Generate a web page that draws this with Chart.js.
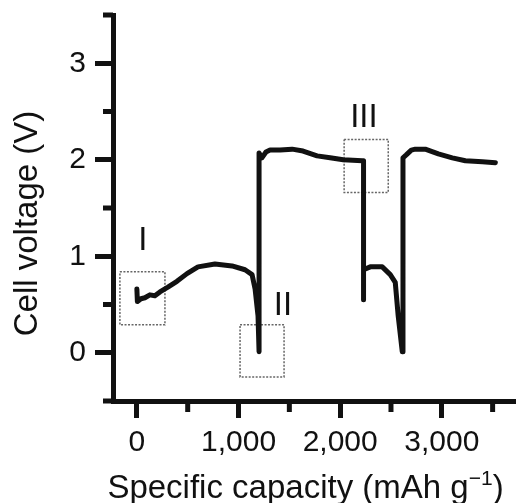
<!DOCTYPE html>
<html>
<head>
<meta charset="utf-8">
<script src="https://cdn.jsdelivr.net/npm/chart.js@4/dist/chart.umd.min.js"></script>
<style>
body{margin:0;background:#fff;}
</style>
</head>
<body>
<canvas id="chart" width="516" height="503"></canvas>
<script>
// discharge / charge curve
const capacity=[0,5,40,79,128,177,227,305,394,493,601,768,936,1064,1133,1163,1192,1202,1202,1230,1270,1310,1409,1527,1635,1773,1901,2030,2217,2230,2230,2230,2296,2414,2493,2542,2571,2611,2618,2650,2700,2739,2837,2966,3103,3232,3399,3527];
const voltage=[0.66,0.53,0.56,0.57,0.60,0.59,0.63,0.68,0.74,0.82,0.89,0.92,0.9,0.86,0.81,0.66,0.38,0.01,2.07,2.02,2.08,2.10,2.10,2.11,2.09,2.04,2.02,2.0,1.99,1.99,0.55,0.86,0.89,0.89,0.81,0.73,0.38,0.01,2.02,2.05,2.10,2.11,2.11,2.06,2.02,1.99,1.98,1.97];

// dotted boxes I, II, III
const regionNames=["I","II","III"];
const boxLeft=[-167,1015,2039];
const boxRight=[276,1448,2473];
const boxTop=[0.84,0.29,2.21];
const boxBottom=[0.29,-0.25,1.66];
const labelX=[59,1437,2234];
const labelY=[1.065,0.39,2.34];

// axis ticks (major ones get labels)
const xTickValues=[0,500,1000,1500,2000,2500,3000,3500];
const yTickValues=[-0.5,0,0.5,1,1.5,2,2.5,3,3.5];
const xTicks=[0,1000,2000,3000];
const yTicks=[0,1,2,3];

const INK='#111';

function isMajor(list,v){return list.some(t=>Math.abs(t-v)<1e-6);}

function boxDataset(i){
    return {
        data:[
            {x:boxLeft[i],y:boxTop[i]},{x:boxRight[i],y:boxTop[i]},
            {x:boxRight[i],y:boxBottom[i]},{x:boxLeft[i],y:boxBottom[i]},
            {x:boxLeft[i],y:boxTop[i]}
        ],
        showLine:true,pointRadius:0,borderColor:'#666',borderWidth:1.5,borderDash:[2,1.5],fill:false
    };
}

const minorTicks={
    id:'minorTicks',
    afterDraw(chart){
        const {ctx,scales:{x,y}}=chart;
        ctx.save();
        ctx.strokeStyle=INK;ctx.lineWidth=5;
        x.ticks.forEach(t=>{
            if(isMajor(xTicks,t.value)) return;
            const px=x.getPixelForValue(t.value);
            ctx.beginPath();ctx.moveTo(px,x.top);ctx.lineTo(px,x.top+11);ctx.stroke();
        });
        y.ticks.forEach(t=>{
            if(isMajor(yTicks,t.value)) return;
            const py=y.getPixelForValue(t.value);
            ctx.beginPath();ctx.moveTo(y.right-10,py);ctx.lineTo(y.right,py);ctx.stroke();
        });
        ctx.restore();
    }
};

const textLayer={
    id:'textLayer',
    afterDraw(chart){
        const {ctx,scales:{x,y}}=chart;
        ctx.save();
        ctx.fillStyle=INK;
        // region labels
        ctx.font='33px "Liberation Sans"';
        ctx.textAlign='center';ctx.textBaseline='alphabetic';
        regionNames.forEach((n,i)=>{
            ctx.fillText(n,x.getPixelForValue(labelX[i]),y.getPixelForValue(labelY[i]));
        });
        // y title
        ctx.save();
        ctx.translate(37,223.5);ctx.rotate(-Math.PI/2);
        ctx.fillText('Cell voltage (V)',0,0);
        ctx.restore();
        // x title with superscript
        const main='Specific capacity (mAh g',sup='\u22121',close=')';
        ctx.font='33px "Liberation Sans"';
        const wMain=ctx.measureText(main).width,wClose=ctx.measureText(close).width;
        ctx.font='21px "Liberation Sans"';
        const wSup=ctx.measureText(sup).width;
        let left=305.5-(wMain+wSup+wClose)/2;
        const base=498;
        ctx.textAlign='left';
        ctx.font='33px "Liberation Sans"';
        ctx.fillText(main,left,base);
        ctx.font='21px "Liberation Sans"';
        ctx.fillText(sup,left+wMain,base-13);
        ctx.font='33px "Liberation Sans"';
        ctx.fillText(close,left+wMain+wSup,base);
        ctx.restore();
    }
};

new Chart(document.getElementById('chart'),{
    type:'scatter',
    data:{
        datasets:[
            {data:capacity.map((c,i)=>({x:c,y:voltage[i]})),showLine:true,pointRadius:0,
             borderColor:INK,borderWidth:5,borderJoinStyle:'round',borderCapStyle:'round',fill:false},
            boxDataset(0),boxDataset(1),boxDataset(2)
        ]
    },
    options:{
        responsive:false,animation:false,
        layout:{padding:{top:15,right:0,left:0,bottom:0}},
        plugins:{legend:{display:false},tooltip:{enabled:false}},
        scales:{
            x:{
                type:'linear',min:-235,max:3730,
                border:{display:true,width:5,color:INK},
                grid:{drawOnChartArea:false,drawTicks:true,tickLength:17,tickWidth:5,
                      tickColor:c=>(c.tick&&isMajor(xTicks,c.tick.value))?INK:'rgba(0,0,0,0)'},
                ticks:{autoSkip:false,maxRotation:0,padding:7,color:INK,
                       font:{family:'Liberation Sans',size:30},
                       callback:v=>isMajor(xTicks,v)?v.toLocaleString('en-US'):''},
                afterBuildTicks:s=>{s.ticks=xTickValues.map(v=>({value:v}));},
                afterFit:s=>{s.height=102;s.paddingLeft=0;s.paddingRight=0;}
            },
            y:{
                type:'linear',min:-0.5,max:3.5,
                border:{display:true,width:5,color:INK},
                grid:{drawOnChartArea:false,drawTicks:true,tickLength:18,tickWidth:5,
                      tickColor:c=>(c.tick&&isMajor(yTicks,c.tick.value))?INK:'rgba(0,0,0,0)'},
                ticks:{autoSkip:false,padding:9,color:INK,
                       font:{family:'Liberation Sans',size:30},
                       callback:v=>isMajor(yTicks,v)?String(Math.round(v)):''},
                afterBuildTicks:s=>{s.ticks=yTickValues.map(v=>({value:v}));},
                afterFit:s=>{s.width=113;s.paddingTop=0;s.paddingBottom=0;}
            }
        }
    },
    plugins:[minorTicks,textLayer]
});
</script>
</body>
</html>
